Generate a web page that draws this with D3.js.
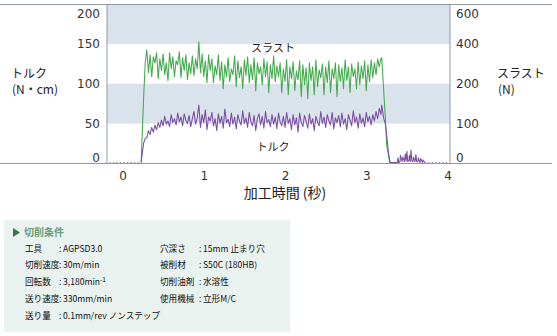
<!DOCTYPE html>
<html><head><meta charset="utf-8">
<script src="https://cdn.jsdelivr.net/npm/d3@7/dist/d3.min.js"></script>
<style>
html,body{margin:0;padding:0;background:#fff;}
svg{display:block;}
</style></head>
<body>
<svg id="c" width="557" height="336"></svg>
<script>
// ---- data ----
const torqueTicks = [0, 50, 100, 150, 200];      // N·cm (left)
const thrustTicks = [0, 100, 200, 400, 600];     // N (right)
const timeTicks = [0, 1, 2, 3, 4];               // s

// idle (dotted) stretches
const idleBefore = [-0.16, 0.23];
const idleAfter = [3.72, 4.0];

// spindle engaging
const riseTimes = [0.23, 0.26, 0.28];
const riseThrust = [0, 160, 300];
const riseTorque = [0, 24, 30];

// steady cutting, sampled every 0.02 s from 0.30 s
const steadyStart = 0.30, steadyStep = 0.02;
const steadyThrust = [
 365,250,340,230,330,300,350,220,320,260,
 345,240,300,210,350,270,330,230,310,290,
 355,225,325,260,340,215,300,245,335,235,
 320,270,405,250,345,230,310,200,340,260,
 320,200,285,240,340,210,305,185,290,230,
 325,205,270,240,335,190,310,225,280,185,
 315,235,330,200,290,215,325,180,300,245,
 280,195,320,230,305,175,290,220,335,205,
 285,230,300,175,270,205,315,170,280,220,
 305,180,260,215,310,165,290,195,275,160,
 300,210,280,170,315,190,265,225,295,170,
 280,200,310,175,270,220,300,165,290,205,
 275,185,315,210,280,175,295,230,270,185,
 305,195,285,220,310,180,290,205,315,225,
 300,240,320,280,320];
const steadyTorque = [
 31,40,35,44,38,47,41,50,44,53,
 46,58,48,52,45,60,50,55,47,62,
 51,57,46,61,53,49,59,45,55,64,
 48,56,72,44,60,50,66,41,57,52,
 63,46,55,40,61,49,58,43,67,50,
 54,45,62,48,57,42,60,52,47,65,
 49,56,44,63,51,46,59,40,55,61,
 47,58,43,64,50,54,45,60,48,57,
 42,62,51,46,58,44,63,49,55,41,
 60,47,56,38,62,50,45,59,52,43,
 61,48,55,40,58,51,46,64,49,57,
 44,60,52,47,63,42,56,50,59,45,
 62,48,55,41,60,53,46,65,50,57,
 43,61,49,56,45,63,51,58,47,60,
 52,64,55,68,60];

// tool retracting
const fallTimesThrust = [3.19, 3.234, 3.25, 3.287, 3.40];
const fallThrust = [325, 114, 46, 0, 0];
const fallTimesTorque = [3.19, 3.215, 3.235, 3.25, 3.27, 3.29, 3.30];
const fallTorque = [72, 55, 48, 36, 15, 2, 0];

// residual torque after retract
const tailTimes = [3.38,3.39,3.40,3.415,3.42,3.44,3.45,3.47,3.48,3.49,3.50,3.51,3.525,3.53,3.54,3.55,3.56,3.575,3.58,3.60,3.61,3.62,3.635,3.64,3.66,3.67,3.69,3.70,3.72];
const tailTorque = [0,6,0,1,9,1,7,1,11,2,14,1,3,9,1,16,2,1,7,1,10,1,1,6,0,5,0,3,0];

const specs = [
  ["工具", "AGPSD3.0", "穴深さ", "15mm 止まり穴"],
  ["切削速度", "30m/min", "被削材", "S50C (180HB)"],
  ["回転数", "3,180min", "切削油剤", "水溶性"],
  ["送り速度", "330mm/min", "使用機械", "立形M/C"],
  ["送り量", "0.1mm/rev ノンステップ", "", ""]
];

// ---- chart ----
const svg = d3.select("#c");
const X0 = 107, X1 = 450, Y0 = 163.5, Y1 = 4;
const x = d3.scaleLinear().domain([-0.19, 4.03]).range([X0, X1]);
const yL = d3.scaleLinear().domain([0, 200]).range([Y0, Y1]);
const yR = d3.scaleLinear().domain(thrustTicks).range(torqueTicks.map(yL));

const num = "'DejaVu Sans', Verdana, sans-serif";
const jp = "'Noto Sans CJK JP', sans-serif";

// bands
[[150, 200], [50, 100]].forEach(b => {
  svg.append("rect").attr("x", X0).attr("width", X1 - X0)
    .attr("y", yL(b[1])).attr("height", yL(b[0]) - yL(b[1]))
    .attr("fill", "#dae3eb");
});

// frame lines
const lineC = "#8d9aa3";
svg.append("line").attr("x1", 0).attr("x2", 552).attr("y1", Y1 + 0.5).attr("y2", Y1 + 0.5).attr("stroke", lineC);
svg.append("line").attr("x1", X0).attr("x2", X0).attr("y1", Y1).attr("y2", Y0).attr("stroke", lineC);
svg.append("line").attr("x1", X1).attr("x2", X1).attr("y1", Y1).attr("y2", Y0).attr("stroke", lineC);

// series assembly
const steadyT = steadyThrust.map((v, i) => [steadyStart + i * steadyStep, v]);
const steadyQ = steadyTorque.map((v, i) => [steadyStart + i * steadyStep, v]);
const thrustPts = riseTimes.map((t, i) => [t, riseThrust[i]])
  .concat(steadyT, fallTimesThrust.map((t, i) => [t, fallThrust[i]]));
const torquePts = riseTimes.map((t, i) => [t, riseTorque[i]])
  .concat(steadyQ, fallTimesTorque.map((t, i) => [t, fallTorque[i]]),
          tailTimes.map((t, i) => [t, tailTorque[i]]));

const green = "#43a94d", purple = "#7a4ea3";
const lineR = d3.line().x(d => x(d[0])).y(d => yR(d[1]) - 1);
const lineLq = d3.line().x(d => x(d[0])).y(d => yL(d[1]) - 1);

// idle dotted
[idleBefore, idleAfter].forEach(seg => {
  svg.append("path").attr("d", lineLq(seg.map(t => [t, 0])))
    .attr("fill", "none").attr("stroke", "#8a78a8").attr("stroke-width", 1)
    .attr("stroke-dasharray", "1.2,2.3");
});

svg.append("path").attr("d", lineR(thrustPts)).attr("fill", "none")
  .attr("stroke", green).attr("stroke-width", 1.05).attr("stroke-linejoin", "round");
svg.append("path").attr("d", lineLq(torquePts)).attr("fill", "none")
  .attr("stroke", purple).attr("stroke-width", 1.05).attr("stroke-linejoin", "round");

// bottom axis line (drawn over series)
svg.append("line").attr("x1", 0).attr("x2", 552).attr("y1", Y0).attr("y2", Y0).attr("stroke", lineC);

// axes
const ax = svg.append("g").attr("transform", `translate(${X0},0)`)
  .call(d3.axisLeft(yL).tickValues(torqueTicks).tickSize(0).tickPadding(7));
const ar = svg.append("g").attr("transform", `translate(${X1},0)`)
  .call(d3.axisRight(yR).tickValues(thrustTicks).tickSize(0).tickPadding(6));
const ab = svg.append("g").attr("transform", `translate(0,${Y0})`)
  .call(d3.axisBottom(x).tickValues(timeTicks).tickFormat(d3.format("d")).tickSize(0).tickPadding(8));
[ax, ar, ab].forEach(g => {
  g.select(".domain").remove();
  g.selectAll("text").attr("font-family", num).attr("font-size", 12).attr("fill", "#333");
});
[ax, ar].forEach(g => {
  g.selectAll(".tick").attr("transform", function () {
    const m = /translate\(([^,]+),([^)]+)\)/.exec(this.getAttribute("transform"));
    const yy = Math.min(Math.max(+m[2], 14), 158);
    return `translate(0,${yy})`;
  });
});

// titles
const tL = svg.append("text").attr("font-family", jp).attr("font-size", 12).attr("fill", "#222");
tL.append("tspan").attr("x", 11).attr("y", 78).text("トルク");
tL.append("tspan").attr("x", 12).attr("y", 94).text("(N・cm)");
const tR = svg.append("text").attr("font-family", jp).attr("font-size", 12).attr("fill", "#222");
tR.append("tspan").attr("x", 497).attr("y", 78).text("スラスト");
tR.append("tspan").attr("x", 498).attr("y", 94).text("(N)");
svg.append("text").attr("x", 285).attr("y", 198).attr("text-anchor", "middle")
  .attr("font-family", jp).attr("font-size", 14).attr("fill", "#222").text("加工時間 (秒)");
svg.append("text").attr("x", 273).attr("y", 52).attr("text-anchor", "middle")
  .attr("font-family", jp).attr("font-size", 11).attr("fill", "#222").text("スラスト");
svg.append("text").attr("x", 273).attr("y", 151).attr("text-anchor", "middle")
  .attr("font-family", jp).attr("font-size", 11).attr("fill", "#222").text("トルク");

// ---- conditions panel ----
svg.append("rect").attr("x", 4).attr("y", 220).attr("width", 286).attr("height", 112).attr("fill", "#e9f2ee");
svg.append("path").attr("d", "M13,228 L20,232.5 L13,237 Z").attr("fill", "#2f7d4a");
svg.append("text").attr("x", 24).attr("y", 236).attr("font-family", jp).attr("font-size", 10)
  .attr("font-weight", "bold").attr("fill", "#6b9c7c").text("切削条件");
const rowY = [252, 268, 285, 302, 319];
const fs = 8.6;
specs.forEach((r, i) => {
  const g = svg.append("g").attr("font-family", jp).attr("font-size", fs).attr("fill", "#111");
  g.append("text").attr("x", 25).attr("y", rowY[i]).text(r[0]);
  g.append("text").attr("x", 59).attr("y", rowY[i]).text(":");
  const v = g.append("text").attr("x", 63).attr("y", rowY[i]).text(r[1]);
  if (i === 2) v.append("tspan").attr("font-size", 6.5).attr("dy", -3).text("-1");
  if (r[2]) {
    g.append("text").attr("x", 160).attr("y", rowY[i]).text(r[2]);
    g.append("text").attr("x", 199).attr("y", rowY[i]).text(":");
    g.append("text").attr("x", 203).attr("y", rowY[i]).text(r[3]);
  }
});
</script>
</body></html>
